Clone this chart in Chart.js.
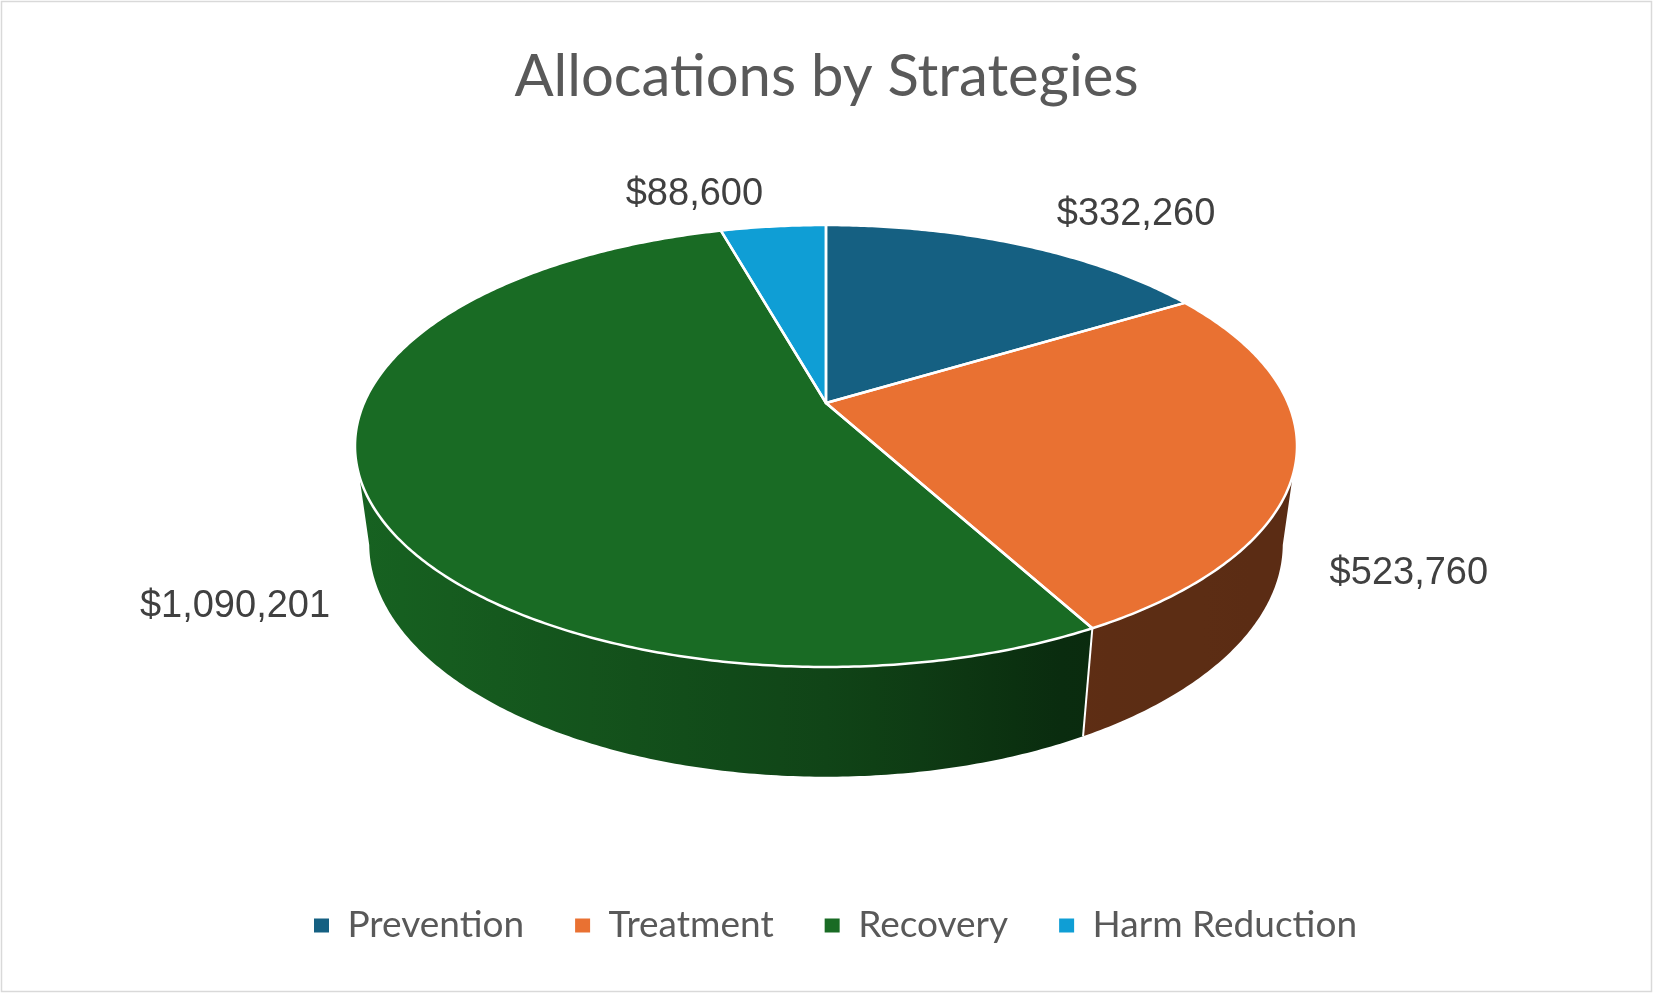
<!DOCTYPE html>
<html>
<head>
<meta charset="utf-8">
<title>Allocations by Strategies</title>
<script src="https://cdn.jsdelivr.net/npm/chart.js@4.4.1/dist/chart.umd.min.js"></script>
<style>
  html, body { margin: 0; padding: 0; background: #fff; }
  #wrap { position: relative; width: 1653px; height: 993px; }
</style>
</head>
<body>
<div id="wrap"><canvas id="pieChart"></canvas></div>
<script>
const categories = ['Prevention', 'Treatment', 'Recovery', 'Harm Reduction'];
const allocations = [332260, 523760, 1090201, 88600];
const sliceColors = ['#156082', '#E97132', '#196B24', '#0F9ED5'];

// 3D look of the pie (tuned by eye)
const view = {
    cx: 826, cy: 403,   // apex of the slices
    rx: 462,            // horizontal radius
    ry: 212.6,          // vertical radius (tilt)
    persp: 0.1946,      // near side bigger, far side smaller
    depth: 99.6,        // wall height
    shrink: 0.03        // bottom rim slightly smaller
};
// wall brightness from left (0) to right (1)
const wallShade = [[0, 0.92], [0.5, 0.64], [0.76, 0.40], [1, 0.39]];

function project(a, r, z) {
    const u = r * Math.cos(a), v = r * Math.sin(a);
    const d = 1 - view.persp * v + view.shrink * z;
    return { x: view.cx + view.rx * u / d, y: view.cy + (view.ry * v + view.depth * z) / d };
}

function shadeAt(t) {
    for (let i = 1; i < wallShade.length; i++) {
        const [t0, f0] = wallShade[i - 1], [t1, f1] = wallShade[i];
        if (t <= t1) return f0 + (f1 - f0) * (t - t0) / (t1 - t0);
    }
    return wallShade[wallShade.length - 1][1];
}

function darken(hex, f) {
    const n = parseInt(hex.slice(1), 16);
    const r = Math.round(((n >> 16) & 255) * f);
    const g = Math.round(((n >> 8) & 255) * f);
    const b = Math.round((n & 255) * f);
    return `rgb(${r},${g},${b})`;
}

function arcPath(ctx, a0, a1, z, first) {
    const steps = Math.max(2, Math.ceil(Math.abs(a1 - a0) / 0.01));
    for (let s = 0; s <= steps; s++) {
        const p = project(a0 + (a1 - a0) * s / steps, 1, z);
        if (first && s === 0) ctx.moveTo(p.x, p.y); else ctx.lineTo(p.x, p.y);
    }
}

const formatMoney = v => '$' + v.toLocaleString('en-US');

const pie3d = {
    id: 'pie3d',
    beforeDraw(chart) {
        const ctx = chart.ctx;
        ctx.save();
        ctx.fillStyle = '#fff';
        ctx.fillRect(0, 0, chart.width, chart.height);
        ctx.strokeStyle = '#d9d9d9';
        ctx.lineWidth = 1.5;
        ctx.strokeRect(1.5, 1.5, chart.width - 3, chart.height - 3);
        ctx.restore();
    },
    afterLayout(chart) {
        // nudge legend to where the original sits
        const lg = chart.legend;
        lg.left += 9; lg.right += 9;
        lg.top -= 39; lg.bottom -= 39;
    },
    beforeDatasetsDraw(chart) {
        const ctx = chart.ctx;
        const arcs = chart.getDatasetMeta(0).data;
        const colors = chart.data.datasets[0].backgroundColor;
        const lim0 = Math.asin(view.persp), lim1 = Math.PI - lim0;
        const xl = view.cx - view.rx * 1.02, xr = view.cx + view.rx * 1.02;

        ctx.save();
        // side walls
        arcs.forEach((arc, i) => {
            const a0 = Math.max(arc.startAngle, lim0), a1 = Math.min(arc.endAngle, lim1);
            if (a1 <= a0) return;
            const grad = ctx.createLinearGradient(xl, 0, xr, 0);
            for (let s = 0; s <= 20; s++) grad.addColorStop(s / 20, darken(colors[i], shadeAt(s / 20)));
            ctx.beginPath();
            arcPath(ctx, a0, a1, 0, true);
            arcPath(ctx, a1, a0, 1, false);
            ctx.closePath();
            ctx.fillStyle = grad;
            ctx.fill();
        });
        ctx.strokeStyle = '#fff';
        ctx.lineWidth = 2;
        arcs.forEach(arc => {
            const a = arc.startAngle;
            if (a > lim0 && a < lim1) {
                const p = project(a, 1, 0), q = project(a, 1, 1);
                ctx.beginPath();
                ctx.moveTo(p.x, p.y);
                ctx.lineTo(q.x, q.y);
                ctx.stroke();
            }
        });

        // top face
        const topPath = arc => {
            ctx.beginPath();
            ctx.moveTo(view.cx, view.cy);
            arcPath(ctx, arc.startAngle, arc.endAngle, 0, false);
            ctx.closePath();
        };
        arcs.forEach((arc, i) => {
            topPath(arc);
            ctx.fillStyle = colors[i];
            ctx.fill();
        });
        ctx.lineWidth = 2.5;
        ctx.lineJoin = 'round';
        arcs.forEach(arc => {
            topPath(arc);
            ctx.stroke();
        });

        // value labels, outside the rim
        ctx.font = '38px "Liberation Sans", Arial, sans-serif';
        ctx.fillStyle = '#404040';
        ctx.textAlign = 'center';
        ctx.textBaseline = 'middle';
        arcs.forEach((arc, i) => {
            const mid = (arc.startAngle + arc.endAngle) / 2;
            const cos = Math.cos(mid);
            const back = Math.sin(mid) < 0;
            const p = project(mid, 1.1, back ? 0 : 1);
            const text = formatMoney(chart.data.datasets[0].data[i]);
            const w = ctx.measureText(text).width;
            const x = back ? p.x + Math.sign(cos) * (w / 2 + 42 * Math.abs(cos))
                           : p.x + Math.sign(cos) * w / 2;
            const y = p.y + (back ? -17 : 6);
            ctx.fillText(text, x, y);
        });
        ctx.restore();
        return false;
    }
};

Chart.defaults.font.family = 'Lato';

new Chart(document.getElementById('pieChart'), {
    type: 'pie',
    data: {
        labels: categories,
        datasets: [{
            data: allocations,
            backgroundColor: sliceColors,
            borderWidth: 0
        }]
    },
    options: {
        responsive: true,
        maintainAspectRatio: false,
        animation: false,
        events: [],
        plugins: {
            title: {
                display: true,
                text: 'Allocations by Strategies',
                color: '#595959',
                font: { family: 'Lato', size: 58, weight: 'normal' },
                padding: { top: 42, bottom: 10 }
            },
            legend: {
                position: 'bottom',
                labels: {
                    color: '#595959',
                    font: { family: 'Lato', size: 37 },
                    boxWidth: 15,
                    boxHeight: 14,
                    padding: 51
                }
            },
            tooltip: { enabled: false }
        }
    },
    plugins: [pie3d]
});
</script>
</body>
</html>
